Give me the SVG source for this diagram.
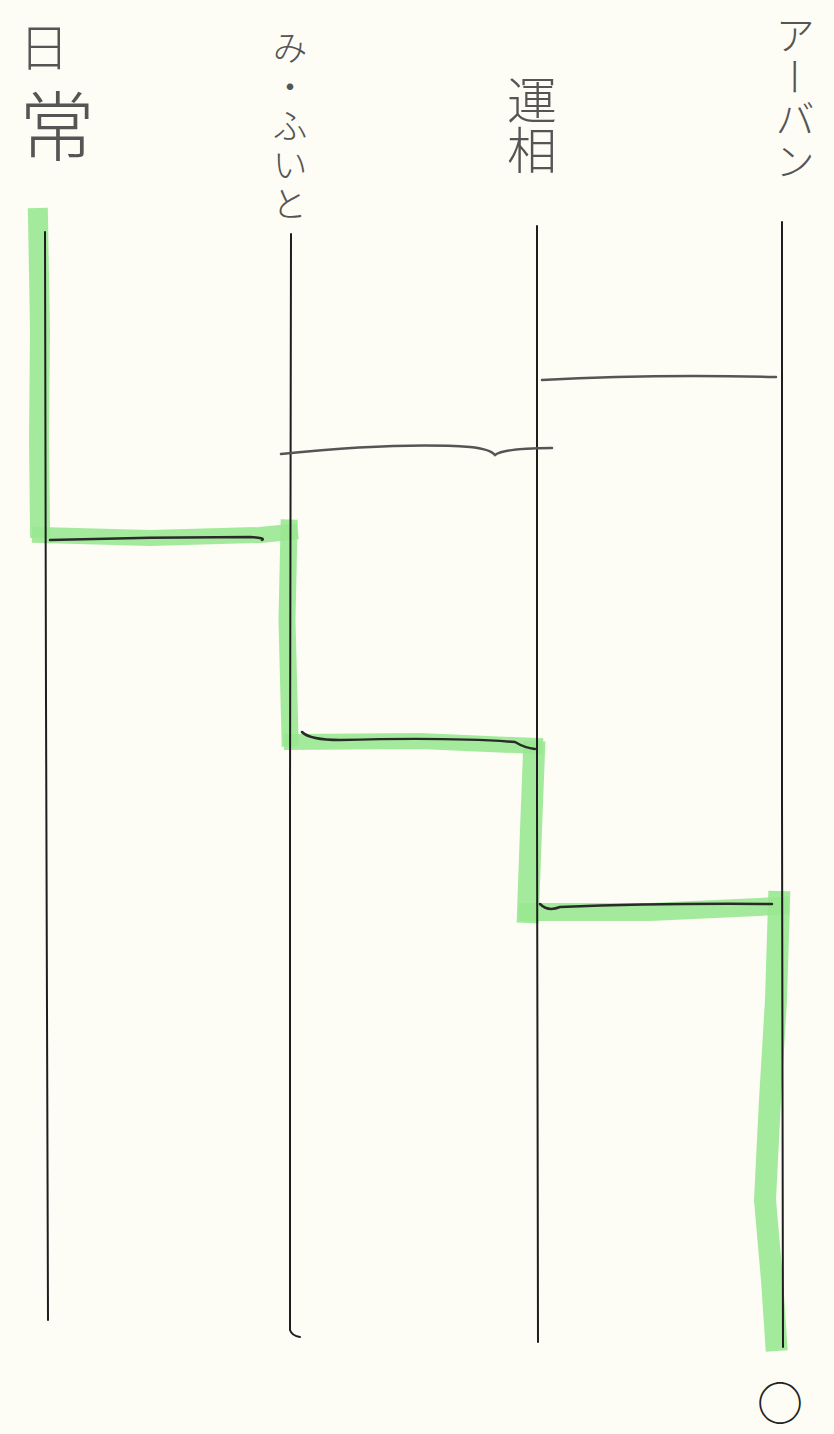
<svg xmlns="http://www.w3.org/2000/svg" width="834" height="1434" viewBox="0 0 834 1434">
<style>
.lbl{font-family:"Noto Sans CJK JP","Noto Sans",sans-serif;fill:#555;writing-mode:vertical-rl;font-weight:300}
.pole{fill:none;stroke:#1e1e1e;stroke-width:2;stroke-linecap:round}
.rung{fill:none;stroke:#555;stroke-width:2.5;stroke-linecap:round}
.ink{fill:none;stroke:#2a2a2a;stroke-width:2.5;stroke-linecap:round}
.hl{fill:none;stroke:#9ae892;stroke-linecap:square;stroke-linejoin:round;opacity:0.9}
</style>
<rect width="834" height="1434" fill="#fdfdf6"/>
<g id="highlight">
<path class="hl" stroke-width="20" d="M38 218 L40 330 L39 440 L40 528"/>
<path class="hl" stroke-width="16" d="M40 535 L150 538 L260 535 L290 532"/>
<path class="hl" stroke-width="17" d="M289 528 L287 620 L290 738"/>
<path class="hl" stroke-width="16" d="M292 742 L420 741 L535 746"/>
<path class="hl" stroke-width="22" d="M534 752 L531 830 L528 912"/>
<path class="hl" stroke-width="18" d="M528 912 L650 912 L780 906"/>
<path class="hl" stroke-width="22" d="M779 902 L776 1000 L770 1100 L765 1200 L772 1280 L776 1340"/>
</g>
<g id="connectors">
<path class="pole" d="M45 232 L46 700 L48 1320"/>
<path class="pole" d="M291 234 L290 800 L290 1330 Q292 1336 300 1337"/>
<path class="pole" d="M537 226 L537 800 L538 1342"/>
<path class="pole" d="M782 222 L782 800 L783 1347"/>
<path class="rung" d="M542 380 Q650 374 776 377"/>
<path class="rung" d="M281 454 Q400 442 470 447 Q490 449 495 455 Q505 448 552 448"/>
<path class="ink" d="M50 540 Q150 537 250 537 Q266 538 262 540"/>
<path class="ink" d="M302 732 Q310 740 340 740 Q450 737 515 742 Q525 748 535 749"/>
<path class="ink" d="M540 904 Q548 912 560 907 Q660 903 772 904"/>
</g>
<g id="label-nichijou"><text class="lbl" x="44" y="22" font-size="50">日</text><text class="lbl" x="57" y="88" font-size="76">常</text></g>
<g id="label-mifuito"><text class="lbl" x="290" y="30" font-size="35" letter-spacing="4">み・ふいと</text></g>
<g id="label-unsou"><text class="lbl" x="532" y="75" font-size="50">運相</text></g>
<g id="label-urban"><text class="lbl" x="795" y="15" font-size="40" letter-spacing="2">アーバン</text></g>
<g id="result"><text x="780" y="1420" font-family="Noto Sans CJK JP,sans-serif" font-size="46" text-anchor="middle" fill="#222">○</text></g>
</svg>
